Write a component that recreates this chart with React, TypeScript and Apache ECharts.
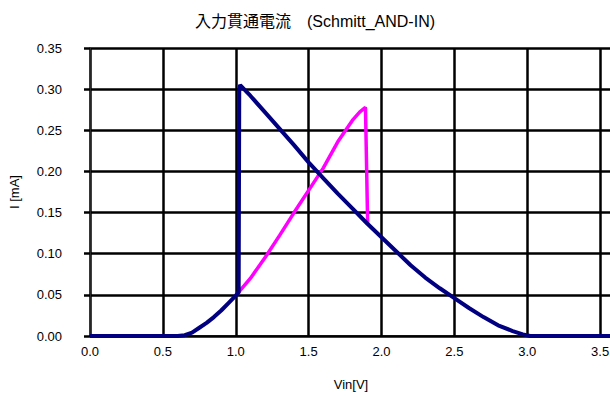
import React, { useEffect, useRef } from "react";
import * as echarts from "echarts";

const titleText = "入力貫通電流　(Schmitt_AND-IN)";
const xName = "Vin[V]";
const yName = "I [mA]";

// Navy series (Vin, I) points
const navyX = [0.0, 0.3, 0.6, 0.65, 0.7, 0.75, 0.8, 0.85, 0.9, 0.95, 1.0, 1.02, 1.024, 1.03, 1.1, 1.2, 1.3, 1.4, 1.5, 1.6, 1.7, 1.8, 1.9, 2.0, 2.1, 2.2, 2.3, 2.4, 2.5, 2.6, 2.7, 2.8, 2.9, 2.97, 3.02, 3.3, 3.6, 4.0];
const navyY = [0.0, 0.0, 0.0, 0.001, 0.004, 0.010, 0.016, 0.023, 0.031, 0.040, 0.049, 0.053, 0.30, 0.305, 0.292, 0.272, 0.252, 0.232, 0.211, 0.192, 0.173, 0.155, 0.137, 0.120, 0.103, 0.086, 0.071, 0.058, 0.046, 0.034, 0.023, 0.013, 0.006, 0.002, 0.0, 0.0, 0.0, 0.0];

// Magenta series
const magX = [1.0, 1.1, 1.2, 1.3, 1.4, 1.5, 1.6, 1.7, 1.8, 1.85, 1.89, 1.905];
const magY = [0.049, 0.070, 0.095, 0.122, 0.150, 0.177, 0.204, 0.236, 0.262, 0.272, 0.278, 0.137];

const xMin = 0;
const xMax = 4;
const xStep = 0.5;
const yMin = 0;
const yMax = 0.35;
const yStep = 0.05;

const zip = (xs: number[], ys: number[]) => xs.map((x, i) => [x, ys[i]]);

export default function App() {
  const ref = useRef<HTMLDivElement>(null);
  useEffect(() => {
    if (!ref.current) return;
    const chart = echarts.init(ref.current, null, { renderer: "svg" });
    const font = "'Liberation Sans', Arial, 'Noto Sans CJK JP', sans-serif";
    chart.setOption({
      animation: false,
      backgroundColor: "#ffffff",
      graphic: [
        {
          type: "text",
          x: 315,
          y: 21,
          style: {
            text: titleText,
            fontFamily: font,
            fontSize: 16,
            fill: "#000",
            align: "center",
            verticalAlign: "middle",
          },
        },
        {
          type: "text",
          x: 351,
          y: 384,
          style: {
            text: xName,
            fontFamily: font,
            fontSize: 13,
            fill: "#000",
            align: "center",
            verticalAlign: "middle",
          },
        },
        {
          type: "text",
          x: 14,
          y: 192,
          rotation: Math.PI / 2,
          style: {
            text: yName,
            fontFamily: font,
            fontSize: 13,
            fill: "#000",
            align: "center",
            verticalAlign: "middle",
          },
        },
      ],
      grid: { left: 90, top: 48, height: 288, width: 583, containLabel: false },
      xAxis: {
        type: "value",
        min: xMin,
        max: xMax,
        interval: xStep,
        axisLine: { show: true, lineStyle: { color: "#000", width: 1.5 } },
        axisTick: { show: false },
        axisLabel: {
          margin: 9,
          fontFamily: font,
          fontSize: 13,
          color: "#000",
          formatter: (v: number) => v.toFixed(1),
        },
        splitLine: { show: true, lineStyle: { color: "#000", width: 2.5 } },
      },
      yAxis: {
        type: "value",
        min: yMin,
        max: yMax,
        interval: yStep,
        axisLine: { show: true, lineStyle: { color: "#333", width: 1.5 } },
        axisTick: { show: true, inside: false, length: 6, lineStyle: { color: "#000", width: 2.5 } },
        axisLabel: {
          margin: 28,
          fontFamily: font,
          fontSize: 13,
          color: "#000",
          formatter: (v: number) => v.toFixed(2),
        },
        splitLine: { show: true, lineStyle: { color: "#000", width: 2.5 } },
      },
      series: [
        {
          type: "line",
          data: zip(magX, magY),
          symbol: "none",
          lineStyle: { color: "#FF00FF", width: 3.5 },
          z: 3,
        },
        {
          type: "line",
          data: zip(navyX, navyY),
          symbol: "none",
          lineStyle: { color: "#000080", width: 4 },
          z: 4,
        },
      ],
    });
    return () => chart.dispose();
  }, []);
  return (
    <div
      style={{
        position: "fixed",
        left: 0,
        top: 0,
        width: 610,
        height: 407,
        overflow: "hidden",
        background: "#fff",
      }}
    >
      <div ref={ref} style={{ width: 690, height: 407 }} />
    </div>
  );
}
